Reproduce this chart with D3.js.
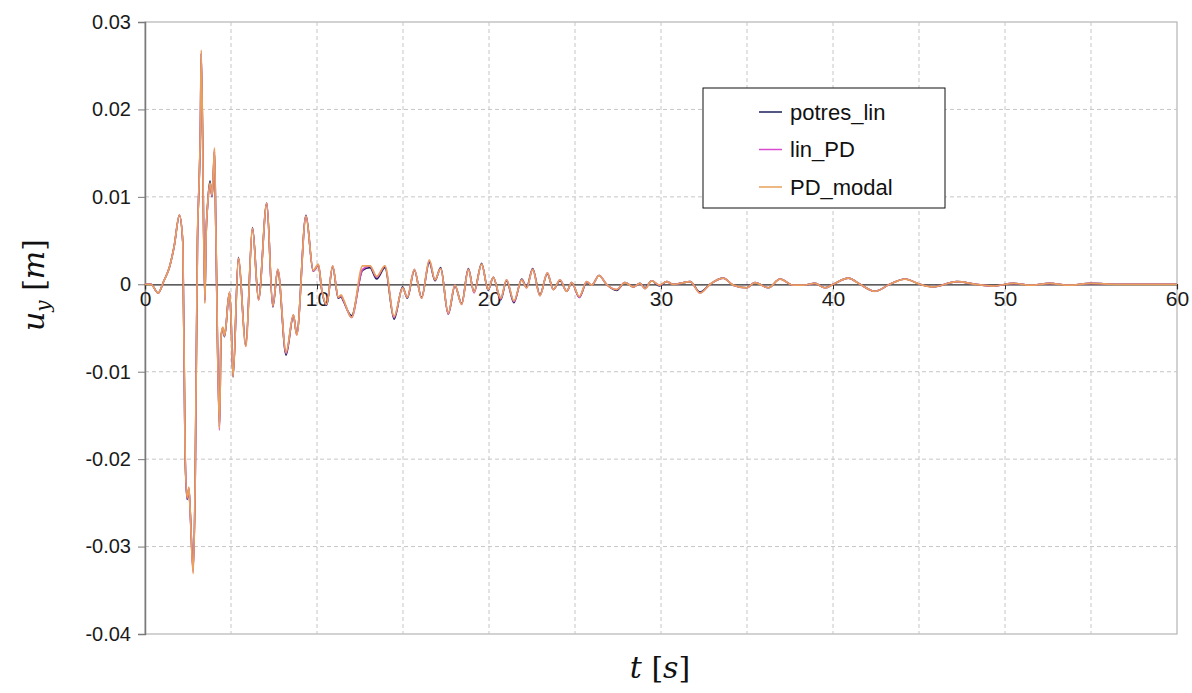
<!DOCTYPE html>
<html lang="en">
<head>
    <meta charset="UTF-8">
    <title>u_y over time</title>
    <script src="https://d3js.org/d3.v7.min.js"></script>
    <style>
        body {
            margin: 0;
            padding: 0;
            background: #ffffff;
            font-family: "Liberation Sans", Arial, Helvetica, sans-serif;
            overflow: hidden;
        }
        .math {
            font-family: "DejaVu Serif", "Liberation Serif", serif;
            font-style: italic;
        }
    </style>
</head>
<body>
    <svg id="vis"></svg>
    <script>
        const width = 1192;
        const height = 693;

        // time (s)
        const times = [
            0, 0.35, 0.76, 1.1, 1.43, 1.7, 2.0, 2.2, 2.33, 2.45,
            2.55, 2.63, 2.8, 2.92, 3.05, 3.15, 3.22, 3.27, 3.48, 3.55,
            3.65, 3.78, 3.9, 3.98, 4.04, 4.12, 4.33, 4.42, 4.52, 4.62,
            4.72, 4.82, 4.92, 5.0, 5.12, 5.43, 5.86, 6.25, 6.6, 7.08,
            7.43, 7.72, 8.2, 8.63, 8.82, 9.36, 9.78, 10.08, 10.27, 10.56,
            10.91, 11.24, 11.4, 11.53, 12.01, 12.65, 13.08, 13.47, 13.95, 14.48,
            14.98, 15.25, 15.66, 16.08, 16.53, 16.86, 17.19, 17.63, 18.02, 18.41,
            18.8, 19.13, 19.57, 19.95, 20.25, 20.68, 21.02, 21.45, 21.9, 22.19,
            22.54, 22.96, 23.39, 23.74, 24.13, 24.52, 24.81, 25.25, 25.68, 25.97,
            26.4, 26.83, 27.42, 27.9, 28.39, 28.78, 29.07, 29.46, 29.9, 30.33,
            30.7, 31.1, 31.7, 32.27, 32.85, 33.62, 34.2, 34.98, 35.46, 36.24,
            36.92, 37.69, 38.28, 38.95, 39.53, 40.02, 40.89, 41.57, 42.44, 43.3,
            44.19, 45.05, 45.8, 47.2, 48.3, 49.3, 50.5, 51.5, 52.6, 53.7,
            55, 56.5, 58, 60
        ];

        // u_y (m)
        const potresLin = [
            0, 0, -0.001, 0.0004, 0.002, 0.0044, 0.0079, 0.0047, -0.0194, -0.0246,
            -0.0234, -0.026, -0.0326, -0.0222, 0.0048, 0.0118, 0.0176, 0.0264, -0.0018, 0.0054,
            0.0094, 0.0118, 0.0100, 0.0129, 0.0152, 0.0060, -0.0163, -0.0062, -0.0050, -0.0060,
            -0.0046, -0.0021, -0.0010, -0.0038, -0.0106, 0.0031, -0.0070, 0.0065, -0.0017, 0.0093,
            -0.0026, 0.0016, -0.0081, -0.0036, -0.0057, 0.0079, 0.0015, 0.0022, -0.0006, -0.0024,
            0.0020, -0.0016, -0.0014, -0.0019, -0.0036, 0.0016, 0.0019, 0.0006, 0.0019, -0.0040,
            -0.0003, -0.0016, 0.0016, -0.0015, 0.0025, 0.0004, 0.0019, -0.0034, -0.0002, -0.0022,
            0.0018, -0.0009, 0.0024, -0.0007, 0.0008, -0.0018, 0.0004, -0.0021, 0.0006, -0.0003,
            0.0018, -0.0012, 0.0012, -0.0006, 0.0004, -0.0008, 0.0002, -0.0015, 0.0002, -0.0001,
            0.0010, 0.0000, -0.0007, 0.0002, -0.0003, 0.0001, -0.0004, 0.0004, -0.0002, 0.0003,
            0.0000, 0.0001, 0.0003, -0.0009, 0.0000, 0.0007, -0.0001, -0.0004, 0.0002, -0.0004,
            0.0006, -0.0001, -0.0001, 0.0001, -0.0004, 0.0000, 0.0007, 0.0000, -0.0008, 0.0000,
            0.0006, 0.0000, -0.0003, 0.0003, 0.0000, -0.0002, 0.0001, -0.0001, 0.0001, -0.0001,
            0.0001, 0.0000, 0.0000, 0.0000
        ];

        const linPD = [
            0, 0, -0.001, 0.0004, 0.002, 0.0044, 0.0079, 0.0048, -0.0192, -0.0245,
            -0.0233, -0.0262, -0.0329, -0.0221, 0.0049, 0.0119, 0.0177, 0.0265, -0.0020, 0.0055,
            0.0092, 0.0114, 0.0101, 0.0130, 0.0154, 0.0061, -0.0167, -0.0061, -0.0050, -0.0059,
            -0.0045, -0.0022, -0.0009, -0.0038, -0.0105, 0.0030, -0.0071, 0.0064, -0.0018, 0.0092,
            -0.0025, 0.0017, -0.0079, -0.0035, -0.0058, 0.0078, 0.0015, 0.0022, -0.0005, -0.0023,
            0.0021, -0.0015, -0.0013, -0.0018, -0.0038, 0.0017, 0.0021, 0.0008, 0.0021, -0.0038,
            -0.0004, -0.0015, 0.0017, -0.0016, 0.0027, 0.0005, 0.0018, -0.0034, -0.0001, -0.0023,
            0.0017, -0.0010, 0.0023, -0.0006, 0.0008, -0.0017, 0.0005, -0.0020, 0.0005, -0.0004,
            0.0017, -0.0013, 0.0013, -0.0006, 0.0005, -0.0008, 0.0002, -0.0015, 0.0003, -0.0001,
            0.0010, 0.0000, -0.0006, 0.0002, -0.0003, 0.0001, -0.0005, 0.0004, -0.0001, 0.0003,
            0.0000, 0.0001, 0.0003, -0.0010, 0.0000, 0.0007, -0.0001, -0.0004, 0.0002, -0.0004,
            0.0006, -0.0001, -0.0001, 0.0001, -0.0004, 0.0000, 0.0007, 0.0000, -0.0008, 0.0000,
            0.0006, 0.0000, -0.0003, 0.0003, 0.0000, -0.0002, 0.0001, -0.0001, 0.0001, -0.0001,
            0.0001, 0.0000, 0.0000, 0.0000
        ];

        const pdModal = [
            0, 0, -0.001, 0.0004, 0.002, 0.0044, 0.0079, 0.0048, -0.019, -0.0244,
            -0.0232, -0.026, -0.0331, -0.022, 0.005, 0.012, 0.0178, 0.0268, -0.0022, 0.0055,
            0.0093, 0.0116, 0.0102, 0.0131, 0.0156, 0.0062, -0.0165, -0.006, -0.0049, -0.0059,
            -0.0045, -0.0022, -0.0009, -0.0037, -0.0106, 0.003, -0.0071, 0.0064, -0.0018, 0.0093,
            -0.0025, 0.0017, -0.0078, -0.0035, -0.0058, 0.0078, 0.0016, 0.0023, -0.0005, -0.0023,
            0.0021, -0.0015, -0.0012, -0.0017, -0.0038, 0.0021, 0.0021, 0.0009, 0.0021, -0.0037,
            -0.0004, -0.0015, 0.0017, -0.0016, 0.0028, 0.0005, 0.0018, -0.0033, -0.0001, -0.0023,
            0.0017, -0.0009, 0.0023, -0.0006, 0.0008, -0.0016, 0.0005, -0.0019, 0.0005, -0.0004,
            0.0017, -0.0013, 0.0013, -0.0006, 0.0005, -0.0008, 0.0002, -0.0014, 0.0003, -0.0001,
            0.0010, 0.0000, -0.0006, 0.0002, -0.0003, 0.0001, -0.0005, 0.0004, -0.0001, 0.0003,
            0.0000, 0.0001, 0.0003, -0.0010, 0.0000, 0.0007, -0.0001, -0.0004, 0.0002, -0.0004,
            0.0006, -0.0001, -0.0001, 0.0001, -0.0004, 0.0000, 0.0007, 0.0000, -0.0008, 0.0000,
            0.0006, 0.0000, -0.0003, 0.0003, 0.0000, -0.0002, 0.0001, -0.0001, 0.0001, -0.0001,
            0.0001, 0.0000, 0.0000, 0.0000
        ];

        const seriesNames = ["potres_lin", "lin_PD", "PD_modal"];
        const seriesColors = ["#1e1e5c", "#d84cd0", "#e9a05c"];
        const seriesValues = [potresLin, linPD, pdModal];

        const yTicks = [0.03, 0.02, 0.01, 0, -0.01, -0.02, -0.03, -0.04];
        const xLabelTicks = [0, 10, 20, 30, 40, 50, 60];
        const xGridTicks = [5, 10, 15, 20, 25, 30, 35, 40, 45, 50, 55];

        const svg = d3.select("#vis")
            .attr("width", width)
            .attr("height", height);

        const plotLeft = 145, plotRight = 1177, plotTop = 22, plotBottom = 634;

        const x = d3.scaleLinear().domain([0, 60]).range([plotLeft, plotRight]);
        const y = d3.scaleLinear().domain([-0.04, 0.03]).range([plotBottom, plotTop]);

        // plot frame
        svg.append("rect")
            .attr("x", plotLeft).attr("y", plotTop)
            .attr("width", plotRight - plotLeft).attr("height", plotBottom - plotTop)
            .attr("fill", "none")
            .attr("stroke", "#b4b4b4")
            .attr("stroke-width", 1.2);

        // grid
        svg.append("g").selectAll("line")
            .data(yTicks.filter(d => d !== 0 && d !== 0.03 && d !== -0.04))
            .join("line")
            .attr("x1", plotLeft).attr("x2", plotRight)
            .attr("y1", d => y(d)).attr("y2", d => y(d))
            .attr("stroke", "#c6c6c6")
            .attr("stroke-dasharray", "4,3");

        svg.append("g").selectAll("line")
            .data(xGridTicks)
            .join("line")
            .attr("x1", d => x(d)).attr("x2", d => x(d))
            .attr("y1", plotTop).attr("y2", plotBottom)
            .attr("stroke", "#c6c6c6")
            .attr("stroke-dasharray", "4,3");

        // left axis
        const yAxis = d3.axisLeft(y)
            .tickValues(yTicks)
            .tickSize(7)
            .tickPadding(7)
            .tickFormat(d => d === 0 ? "0" : d3.format(".2f")(d).replace("−", "-"));
        const gy = svg.append("g")
            .attr("transform", `translate(${plotLeft},0)`)
            .call(yAxis);
        gy.select(".domain").attr("stroke", "#7a7a7a").attr("stroke-width", 1.5);
        gy.selectAll(".tick line").attr("stroke", "#7a7a7a");
        gy.selectAll(".tick text")
            .attr("fill", "#1a1a1a")
            .style("font-family", "'Liberation Sans', Arial, sans-serif")
            .style("font-size", "20px");

        // zero axis with labels
        const xAxis = d3.axisBottom(x)
            .tickValues(xLabelTicks)
            .tickSize(5)
            .tickPadding(2)
            .tickFormat(d3.format("d"));
        const gx = svg.append("g")
            .attr("transform", `translate(0,${y(0)})`)
            .call(xAxis);
        gx.select(".domain").attr("stroke", "#2a2a2a").attr("stroke-width", 1.2);
        gx.selectAll(".tick line").attr("stroke", "#2a2a2a");
        gx.selectAll(".tick text")
            .attr("fill", "#1a1a1a")
            .style("font-family", "'Liberation Sans', Arial, sans-serif")
            .style("font-size", "21px");

        // series
        const line = d3.line()
            .x((d, i) => x(times[i]))
            .y(d => y(d))
            .curve(d3.curveMonotoneX);

        svg.append("g").selectAll("path")
            .data(seriesValues)
            .join("path")
            .attr("d", d => line(d))
            .attr("fill", "none")
            .attr("stroke", (d, i) => seriesColors[i])
            .attr("stroke-width", (d, i) => i === 2 ? 1.7 : 1.6);

        // legend
        const legend = svg.append("g").attr("transform", "translate(703,88)");
        legend.append("rect")
            .attr("width", 242).attr("height", 120)
            .attr("fill", "#ffffff")
            .attr("stroke", "#111")
            .attr("stroke-width", 1);
        const rows = legend.selectAll("g.row")
            .data(seriesNames)
            .join("g")
            .attr("class", "row")
            .attr("transform", (d, i) => `translate(0,${24 + i * 37.5})`);
        rows.append("line")
            .attr("x1", 56).attr("x2", 79)
            .attr("stroke", (d, i) => seriesColors[i])
            .attr("stroke-width", 1.5);
        rows.append("text")
            .attr("x", 87).attr("dy", "0.35em")
            .style("font-size", "22px")
            .attr("fill", "#111")
            .text(d => d);

        // axis titles
        const yTitle = svg.append("text")
            .attr("transform", "translate(44,285) rotate(-90)")
            .attr("text-anchor", "middle")
            .attr("class", "math")
            .style("font-size", "30px")
            .attr("fill", "#111");
        yTitle.append("tspan").text("u");
        yTitle.append("tspan").attr("dy", 6).style("font-size", "20px").text("y");
        yTitle.append("tspan").attr("dy", -6).style("font-style", "normal").text(" [");
        yTitle.append("tspan").text("m");
        yTitle.append("tspan").style("font-style", "normal").text("]");

        const xTitle = svg.append("text")
            .attr("x", 660).attr("y", 678)
            .attr("text-anchor", "middle")
            .attr("class", "math")
            .style("font-size", "30px")
            .attr("fill", "#111");
        xTitle.append("tspan").text("t");
        xTitle.append("tspan").style("font-style", "normal").text(" [");
        xTitle.append("tspan").text("s");
        xTitle.append("tspan").style("font-style", "normal").text("]");
    </script>
</body>
</html>
